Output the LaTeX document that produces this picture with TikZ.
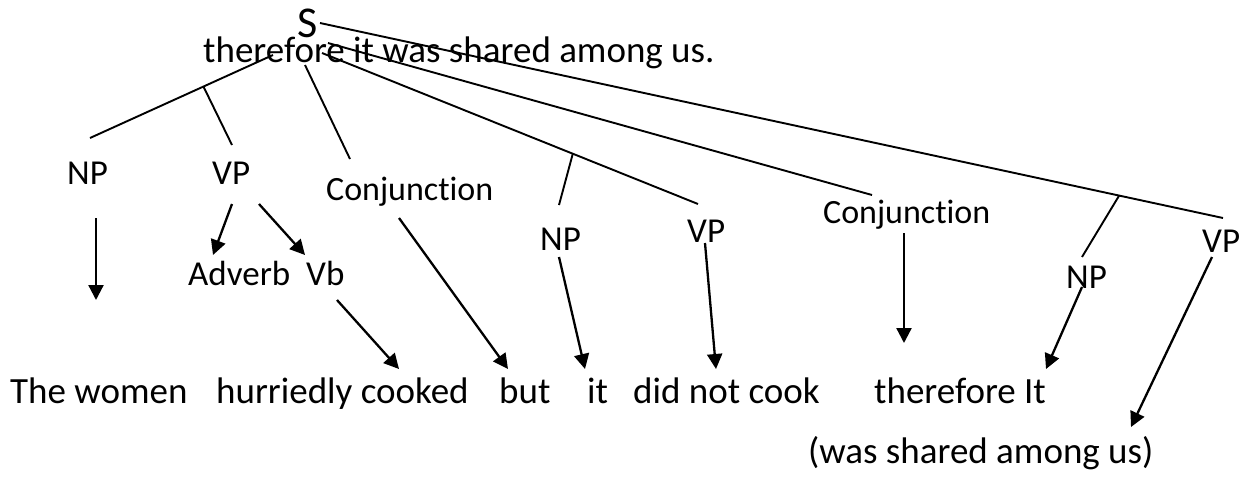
\documentclass[tikz,border=0pt]{standalone}
\usepackage{fontspec}
\setmainfont{Carlito}[Ligatures={NoCommon}]
\usetikzlibrary{arrows.meta,calc}
\begin{document}
\begin{tikzpicture}[x=1pt,y=-1pt,
  txt/.style={inner sep=0pt, anchor=base west, font=\fontsize{37}{44}\selectfont},
  lbl/.style={inner sep=0pt, anchor=base west, font=\fontsize{35}{42}\selectfont},
  cj/.style={inner sep=0pt, anchor=base west, font=\fontsize{34}{40}\selectfont},
  edge/.style={line width=1.9pt},
  arr/.style={line width=2.3pt, -{Triangle[width=15pt,length=15pt]}}
]
\useasboundingbox (0,0) rectangle (1254,480);
% top
\node[txt, font=\fontsize{44}{50}\selectfont] (S) at (297,37) {S};
\node[txt] (sent) at (203,62) {therefore it was shared among us.};
% labels
\node[lbl] (np1) at (67,184) {NP};
\node[lbl] (vp1) at (212,184) {VP};
\node[cj]  (cj1) at (326,200) {Conjunction};
\node[lbl] (np2) at (540,250) {NP};
\node[lbl] (vp2) at (687,242) {VP};
\node[cj]  (cj2) at (823,223) {Conjunction};
\node[lbl] (np3) at (1066,288) {NP};
\node[lbl] (vp3) at (1202,252) {VP};
\node[lbl] (adv) at (188,285) {Adverb};
\node[lbl] (vb)  at (306,285) {Vb};
% words
\node[txt] (w1) at (10,403) {The women};
\node[txt] (w2) at (216,403) {hurriedly cooked};
\node[txt] (w3) at (499,403) {but};
\node[txt] (w4) at (587,403) {it};
\node[txt] (w5) at (633,403) {did not cook};
\node[txt] (w6) at (874,403) {therefore It};
\node[txt] (w7) at (808,463) {(was shared among us)};
% tree line end points
\coordinate (sA) at (273,55);
\coordinate (sB) at (305,65);
\coordinate (sC) at (322,53);
\coordinate (sD) at (328,43);
\coordinate (sE) at (320,23);
\coordinate (np1t) at (90,138);
\coordinate (vp1t) at (232,145);
\coordinate (cj1t) at (350,159);
\coordinate (np2t) at (559,205);
\coordinate (vp2t) at (698,204);
\coordinate (cj2t) at (872,195);
\coordinate (np3t) at (1082,257);
\coordinate (vp3t) at (1223,218);
\coordinate (j1) at ($(sA)!0.38!(np1t)$);
\coordinate (j2) at ($(sC)!0.667!(vp2t)$);
\coordinate (j3) at ($(sE)!0.885!(vp3t)$);
% tree lines
\draw[edge] (sA) -- (np1t);
\draw[edge] (j1) -- (vp1t);
\draw[edge] (sB) -- (cj1t);
\draw[edge] (sC) -- (vp2t);
\draw[edge] (j2) -- (np2t);
\draw[edge] (sD) -- (cj2t);
\draw[edge] (sE) -- (vp3t);
\draw[edge] (j3) -- (np3t);
% arrow end points
\coordinate (np1b) at (96,218);   \coordinate (np1e) at (96,300);
\coordinate (vp1a) at (232,204);  \coordinate (adve) at (213,255);
\coordinate (vp1b) at (259,204);  \coordinate (vbe)  at (305,255);
\coordinate (vbb)  at (337,300);  \coordinate (w2e)  at (399,369);
\coordinate (cj1b) at (399,218);  \coordinate (w3e)  at (508,369);
\coordinate (np2b) at (559,257);  \coordinate (w4e)  at (585,369);
\coordinate (vp2b) at (705,243);  \coordinate (w5e)  at (716,369);
\coordinate (cj2b) at (904,233);  \coordinate (cj2e) at (904,343);
\coordinate (np3b) at (1082,287); \coordinate (w6e)  at (1046,369);
\coordinate (vp3b) at (1212,257); \coordinate (w7e)  at (1131,427);
% arrows
\draw[arr] (np1b) -- (np1e);
\draw[arr] (vp1a) -- (adve);
\draw[arr] (vp1b) -- (vbe);
\draw[arr] (vbb) -- (w2e);
\draw[arr] (cj1b) -- (w3e);
\draw[arr] (np2b) -- (w4e);
\draw[arr] (vp2b) -- (w5e);
\draw[arr] (cj2b) -- (cj2e);
\draw[arr] (np3b) -- (w6e);
\draw[arr] (vp3b) -- (w7e);
\end{tikzpicture}
\end{document}
